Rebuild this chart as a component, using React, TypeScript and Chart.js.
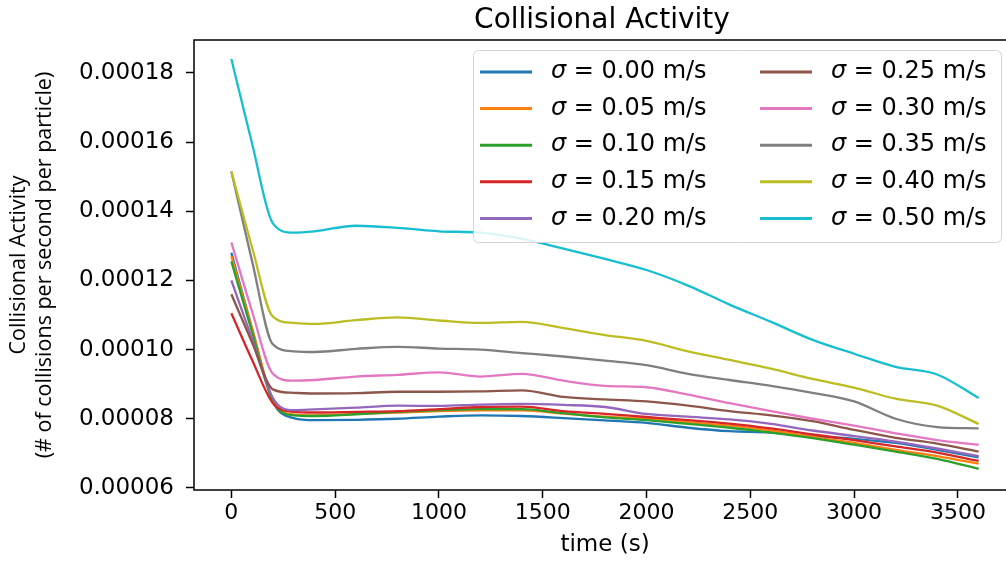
import React, { useEffect, useRef } from 'react';
import { Chart, registerables } from 'chart.js';

Chart.register(...registerables);

// time axis samples (s)
const times = [0, 100, 200, 300, 400, 600, 800, 1000, 1200, 1400, 1600, 1800, 2000, 2200, 2400, 2600, 2800, 3000, 3200, 3400, 3600];

// collisional activity, in units of 1e-5 collisions / s / particle
const sigma000 = [12.8, 10.6, 8.5, 8.02, 7.96, 7.97, 8.0, 8.06, 8.1, 8.08, 8.02, 7.95, 7.88, 7.74, 7.64, 7.6, 7.5, 7.42, 7.3, 7.1, 6.88];
const sigma005 = [12.7, 10.6, 8.55, 8.12, 8.1, 8.14, 8.18, 8.22, 8.24, 8.24, 8.15, 8.06, 8.0, 7.9, 7.8, 7.66, 7.48, 7.3, 7.1, 6.92, 6.7];
const sigma010 = [12.55, 10.5, 8.5, 8.1, 8.08, 8.13, 8.2, 8.25, 8.28, 8.28, 8.16, 8.04, 7.96, 7.85, 7.74, 7.6, 7.44, 7.25, 7.05, 6.84, 6.55];
const sigma015 = [11.05, 9.7, 8.45, 8.2, 8.18, 8.2, 8.22, 8.28, 8.34, 8.35, 8.22, 8.14, 8.05, 7.96, 7.86, 7.72, 7.55, 7.38, 7.2, 7.02, 6.78];
const sigma020 = [12.0, 10.3, 8.6, 8.25, 8.27, 8.32, 8.38, 8.37, 8.41, 8.43, 8.4, 8.34, 8.14, 8.06, 7.98, 7.85, 7.66, 7.5, 7.34, 7.14, 6.92];
const sigma025 = [11.6, 10.2, 8.85, 8.75, 8.73, 8.74, 8.78, 8.78, 8.79, 8.82, 8.63, 8.56, 8.5, 8.38, 8.22, 8.1, 7.93, 7.68, 7.45, 7.28, 7.05];
const sigma030 = [13.1, 11.1, 9.3, 9.1, 9.12, 9.22, 9.27, 9.34, 9.22, 9.3, 9.1, 8.95, 8.91, 8.7, 8.45, 8.22, 8.0, 7.8, 7.58, 7.38, 7.25];
const sigma035 = [15.15, 12.55, 10.15, 9.95, 9.93, 10.02, 10.08, 10.03, 10.0, 9.9, 9.8, 9.68, 9.55, 9.3, 9.12, 8.95, 8.75, 8.5, 8.0, 7.76, 7.72];
const sigma040 = [15.15, 12.95, 10.95, 10.77, 10.74, 10.85, 10.93, 10.84, 10.77, 10.8, 10.62, 10.42, 10.25, 9.95, 9.7, 9.45, 9.15, 8.9, 8.58, 8.38, 7.85];
const sigma050 = [18.4, 15.95, 13.65, 13.38, 13.42, 13.58, 13.52, 13.42, 13.38, 13.2, 12.92, 12.62, 12.3, 11.85, 11.3, 10.8, 10.28, 9.88, 9.5, 9.28, 8.6];

const seriesValues = [sigma000, sigma005, sigma010, sigma015, sigma020, sigma025, sigma030, sigma035, sigma040, sigma050];
const sigmaNames = ['0.00', '0.05', '0.10', '0.15', '0.20', '0.25', '0.30', '0.35', '0.40', '0.50'];
const seriesColors = ['#1f77b4', '#ff7f0e', '#2ca02c', '#d62728', '#9467bd', '#8c564b', '#e377c2', '#7f7f7f', '#bcbd22', '#17becf'];

const xTickValues = [0, 500, 1000, 1500, 2000, 2500, 3000, 3500];
const xTickLabels = ['0', '500', '1000', '1500', '2000', '2500', '3000', '3500'];
const yTickValues = [6, 8, 10, 12, 14, 16, 18];
const yTickLabels = ['0.00006', '0.00008', '0.00010', '0.00012', '0.00014', '0.00016', '0.00018'];

const chartTitle = 'Collisional Activity';
const xTitle = 'time (s)';
const yTitle = ['Collisional Activity', '(# of collisions per second per particle)'];

const FONT = '"DejaVu Sans", sans-serif';

const framePlugin = {
  id: 'mplFrame',
  afterDatasetsDraw(chart: any) {
    const { ctx, chartArea: a } = chart;
    ctx.save();
    ctx.strokeStyle = '#000';
    ctx.lineWidth = 1.5;
    ctx.strokeRect(a.left, a.top, a.right - a.left, a.bottom - a.top);
    ctx.restore();
  },
};

const titlePlugin = {
  id: 'mplTitle',
  afterDraw(chart: any) {
    const { ctx, chartArea: a } = chart;
    ctx.save();
    ctx.fillStyle = '#000';
    ctx.font = `28px ${FONT}`;
    ctx.textAlign = 'center';
    ctx.textBaseline = 'alphabetic';
    ctx.fillText(chartTitle, (a.left + a.right) / 2 - 3, 28);
    ctx.restore();
  },
};

const legendPlugin = {
  id: 'mplLegend',
  afterDraw(chart: any) {
    const ctx = chart.ctx;
    ctx.save();
    ctx.beginPath();
    if ((ctx as any).roundRect) {
      (ctx as any).roundRect(473.5, 50.5, 528, 192, 5);
    } else {
      ctx.rect(473.5, 50.5, 528, 192);
    }
    ctx.fillStyle = 'rgba(255,255,255,0.85)';
    ctx.fill();
    ctx.strokeStyle = '#d4d4d4';
    ctx.lineWidth = 1;
    ctx.stroke();
    chart.data.datasets.forEach((ds: any, i: number) => {
      const col = Math.floor(i / 5);
      const row = i % 5;
      const lx = col === 0 ? 480 : 760;
      const y = 72 + row * 36.6;
      ctx.strokeStyle = ds.borderColor;
      ctx.lineWidth = 3;
      ctx.beginPath();
      ctx.moveTo(lx, y);
      ctx.lineTo(lx + 52, y);
      ctx.stroke();
      const tx = lx + 71;
      ctx.fillStyle = '#000';
      ctx.textAlign = 'left';
      ctx.textBaseline = 'middle';
      const label: string = ds.label;
      const sym = label.charAt(0);
      ctx.font = `italic 24px ${FONT}`;
      ctx.fillText(sym, tx, y);
      const w = ctx.measureText(sym).width;
      ctx.font = `24px ${FONT}`;
      ctx.fillText(label.slice(1), tx + w, y);
    });
    ctx.restore();
  },
};

export default function App() {
  const canvasRef = useRef<HTMLCanvasElement | null>(null);

  useEffect(() => {
    const canvas = canvasRef.current;
    if (!canvas) return;
    const datasets = seriesValues.map((vals, i) => ({
      label: `σ = ${sigmaNames[i]} m/s`,
      data: times.map((t, j) => ({ x: t, y: vals[j] })),
      borderColor: seriesColors[i],
      backgroundColor: seriesColors[i],
      borderWidth: 2.3,
      pointRadius: 0,
      fill: false,
      cubicInterpolationMode: 'monotone' as const,
      order: seriesValues.length - i,
    }));

    const chart = new Chart(canvas, {
      type: 'line',
      data: { datasets },
      options: {
        responsive: false,
        animation: false,
        layout: { padding: { left: 0, right: 14, top: 40, bottom: 0 } },
        plugins: {
          legend: { display: false },
          title: { display: false },
          tooltip: { enabled: false },
        },
        scales: {
          x: {
            type: 'linear',
            min: -180,
            max: 3780,
            afterBuildTicks: (s: any) => {
              s.ticks = xTickValues.map((v) => ({ value: v }));
            },
            afterFit: (s: any) => {
              s.height = 71;
            },
            grid: {
              display: true,
              drawOnChartArea: false,
              drawTicks: true,
              tickLength: 8,
              tickWidth: 1.5,
              tickColor: '#000',
            },
            border: { display: false },
            ticks: {
              font: { family: FONT, size: 22 },
              color: '#000',
              padding: 2,
              maxRotation: 0,
              autoSkip: false,
              callback: (v: any) => xTickLabels[xTickValues.indexOf(Number(v))] ?? '',
            },
            title: {
              display: true,
              text: xTitle,
              font: { family: FONT, size: 23 },
              color: '#000',
              padding: { top: 0, bottom: 2 },
            },
          },
          y: {
            type: 'linear',
            min: 5.94,
            max: 18.95,
            afterBuildTicks: (s: any) => {
              s.ticks = yTickValues.map((v) => ({ value: v }));
            },
            afterFit: (s: any) => {
              s.width = 194;
            },
            grid: {
              display: true,
              drawOnChartArea: false,
              drawTicks: true,
              tickLength: 8,
              tickWidth: 1.5,
              tickColor: '#000',
            },
            border: { display: false },
            ticks: {
              font: { family: FONT, size: 23 },
              color: '#000',
              padding: 12,
              autoSkip: false,
              callback: (v: any) => yTickLabels[yTickValues.indexOf(Number(v))] ?? '',
            },
            title: {
              display: true,
              text: yTitle,
              font: { family: '"Open Sans", sans-serif', size: 21.5 },
              color: '#000',
              padding: { top: 6, bottom: 0 },
            },
          },
        },
      },
      plugins: [framePlugin, legendPlugin, titlePlugin],
    });

    return () => {
      chart.destroy();
    };
  }, []);

  return (
    <div
      style={{
        position: 'absolute',
        left: 0,
        top: 0,
        width: 1006,
        height: 561,
        overflow: 'hidden',
        background: '#fff',
      }}
    >
      <canvas
        ref={canvasRef}
        width={1030}
        height={561}
        style={{ display: 'block', width: 1030, height: 561 }}
      />
    </div>
  );
}
